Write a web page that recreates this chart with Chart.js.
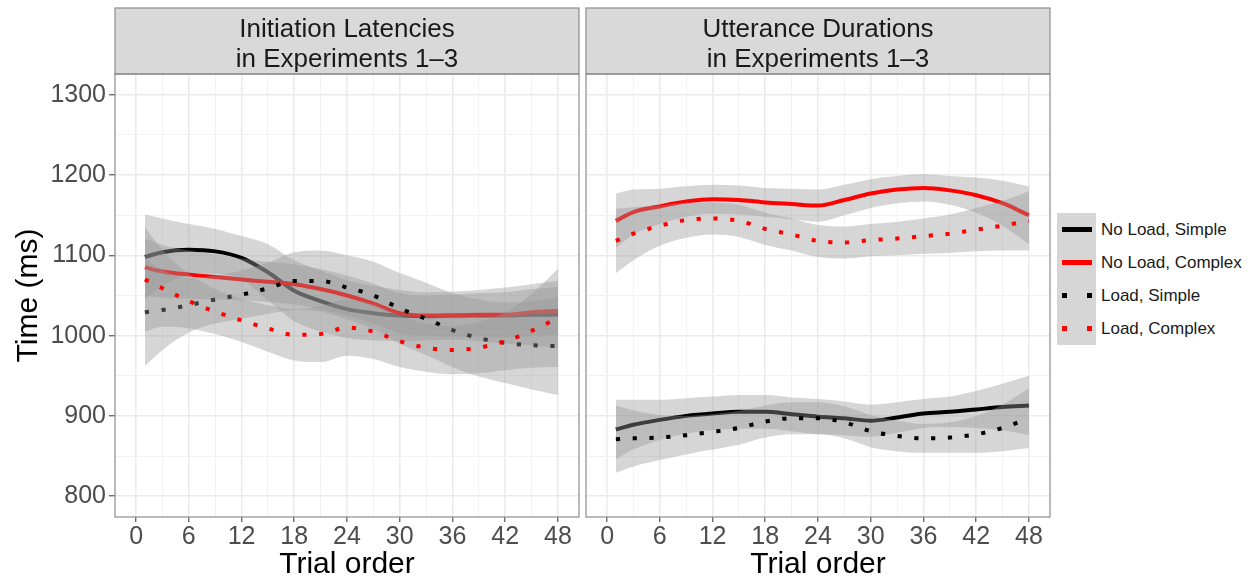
<!DOCTYPE html>
<html>
<head>
<meta charset="utf-8">
<script src="https://cdn.jsdelivr.net/npm/chart.js@4.4.1/dist/chart.umd.min.js"></script>
<style>
  body { margin: 0; background: #fff; font-family: "Liberation Sans", Arial, Helvetica, sans-serif; }
  #wrap { position: relative; width: 1253px; height: 578px; }
  canvas { position: absolute; top: 0; }
  .key { position: absolute; left: 1057px; width: 39px; height: 33px; background: #d6d6d6; }
  .solid { position: absolute; left: 5px; width: 30px; height: 5px; top: 14px; }
  .dot { position: absolute; width: 5px; height: 5px; top: 14px; }
  .lab { position: absolute; left: 1101px; font-size: 17px; color: #1a1a1a; line-height: 33px; white-space: nowrap; }
</style>
</head>
<body>
<div id="wrap">
  <canvas id="leftChart" width="583" height="578" style="left:0"></canvas>
  <canvas id="rightChart" width="470" height="578" style="left:583px"></canvas>
  <div id="legend"></div>
</div>
<script>
// trial positions where the smoothed curves were read
const trials = [1, 3, 6, 9, 12, 15, 18, 21, 24, 27, 30, 33, 36, 39, 42, 45, 48];

// Initiation latencies (ms)
const latNoLoadSimple = [1098, 1104, 1107, 1105, 1097, 1079, 1056, 1043, 1033, 1028, 1025, 1024, 1025, 1025, 1025, 1026, 1026];
const latNoLoadSimpleHi = [1151, 1146, 1139, 1133, 1124, 1114, 1094, 1081, 1069, 1062, 1057, 1054, 1055, 1057, 1060, 1064, 1068];
const latNoLoadSimpleLo = [1045, 1062, 1075, 1077, 1070, 1044, 1018, 1005, 997, 994, 993, 994, 995, 993, 990, 988, 984];
const latNoLoadComplex = [1085, 1080, 1076, 1073, 1070, 1067, 1064, 1058, 1050, 1040, 1028, 1025, 1025, 1026, 1026, 1029, 1031];
const latNoLoadComplexHi = [1121, 1113, 1106, 1101, 1096, 1092, 1089, 1083, 1075, 1065, 1053, 1050, 1051, 1053, 1054, 1058, 1061];
const latNoLoadComplexLo = [1049, 1047, 1046, 1045, 1044, 1042, 1039, 1033, 1025, 1015, 1003, 1000, 999, 999, 998, 1000, 1001];
const latLoadSimple = [1029, 1032, 1038, 1045, 1051, 1059, 1068, 1068, 1060, 1050, 1034, 1021, 1007, 997, 991, 988, 987];
const latLoadSimpleHi = [1096, 1082, 1072, 1075, 1081, 1091, 1104, 1106, 1100, 1092, 1078, 1066, 1053, 1045, 1041, 1043, 1048];
const latLoadSimpleLo = [962, 982, 1004, 1015, 1021, 1027, 1032, 1030, 1020, 1008, 990, 976, 961, 949, 941, 933, 926];
const latLoadComplex = [1070, 1059, 1043, 1030, 1019, 1009, 1001, 1002, 1010, 1005, 993, 985, 982, 985, 993, 1006, 1022];
const latLoadComplexHi = [1135, 1107, 1077, 1058, 1046, 1038, 1033, 1037, 1045, 1039, 1025, 1015, 1012, 1017, 1029, 1052, 1083];
const latLoadComplexLo = [1005, 1011, 1009, 1002, 992, 980, 969, 967, 975, 971, 961, 955, 952, 953, 957, 960, 961];

// Utterance durations (ms)
const durNoLoadSimple = [883, 889, 895, 900, 903, 905, 905, 902, 899, 897, 894, 898, 903, 905, 908, 911, 913];
const durNoLoadSimpleHi = [920, 920, 920, 922, 924, 926, 926, 923, 921, 918, 914, 917, 921, 924, 931, 940, 950];
const durNoLoadSimpleLo = [846, 858, 870, 878, 882, 884, 884, 881, 877, 876, 874, 879, 885, 886, 885, 882, 876];
const durNoLoadComplex = [1143, 1154, 1161, 1167, 1170, 1169, 1166, 1164, 1162, 1169, 1177, 1182, 1184, 1181, 1175, 1165, 1150];
const durNoLoadComplexHi = [1177, 1182, 1183, 1186, 1188, 1187, 1184, 1183, 1182, 1188, 1195, 1199, 1201, 1199, 1197, 1193, 1186];
const durNoLoadComplexLo = [1109, 1126, 1139, 1148, 1152, 1151, 1148, 1145, 1142, 1150, 1159, 1165, 1167, 1163, 1153, 1137, 1114];
const durLoadSimple = [871, 872, 873, 876, 880, 885, 893, 897, 897, 892, 881, 875, 872, 873, 877, 885, 897];
const durLoadSimpleHi = [913, 907, 901, 900, 902, 906, 913, 917, 917, 912, 901, 894, 890, 892, 900, 914, 934];
const durLoadSimpleLo = [829, 837, 845, 852, 858, 864, 873, 877, 877, 872, 861, 856, 854, 854, 854, 856, 860];
const durLoadComplex = [1118, 1127, 1137, 1144, 1146, 1143, 1133, 1126, 1118, 1116, 1119, 1121, 1124, 1127, 1132, 1137, 1143];
const durLoadComplexHi = [1158, 1160, 1162, 1166, 1166, 1163, 1153, 1146, 1138, 1136, 1139, 1142, 1146, 1151, 1159, 1168, 1180];
const durLoadComplexLo = [1078, 1094, 1112, 1122, 1126, 1123, 1113, 1106, 1098, 1096, 1099, 1100, 1102, 1103, 1105, 1106, 1106];

const xTicks = [0, 3, 6, 9, 12, 15, 18, 21, 24, 27, 30, 33, 36, 39, 42, 45, 48];
const yTicks = [800, 850, 900, 950, 1000, 1050, 1100, 1150, 1200, 1250, 1300];
const seriesNames = ['No Load, Simple', 'No Load, Complex', 'Load, Simple', 'Load, Complex'];
const seriesColors = ['#000000', '#ff0000', '#000000', '#ff0000'];
const seriesDotted = [false, false, true, true];

const FONT = '"Liberation Sans", Arial, Helvetica, sans-serif';
const RIBBON = 'rgba(153,153,153,0.4)';
Chart.defaults.font.family = FONT;

function pts(ys) {
    return trials.map((t, i) => ({ x: t, y: ys[i] }));
}

// ggplot order: ribbon 1, line 1, ribbon 2, line 2 ...
function buildDatasets(groups) {
    const sets = [];
    const total = groups.length * 3;
    let k = 0;
    groups.forEach((g, i) => {
        const lowIdx = sets.length;
        sets.push({
            data: pts(g[2]), borderColor: 'rgba(0,0,0,0)', borderWidth: 1,
            pointRadius: 0, fill: false, order: total - k++,
            cubicInterpolationMode: 'monotone'
        });
        sets.push({
            data: pts(g[1]), borderColor: 'rgba(0,0,0,0)', borderWidth: 1,
            backgroundColor: RIBBON, pointRadius: 0, fill: lowIdx, order: total - k++,
            cubicInterpolationMode: 'monotone'
        });
        sets.push({
            label: seriesNames[i],
            data: pts(g[0]), borderColor: seriesColors[i], borderWidth: 4,
            borderDash: seriesDotted[i] ? [4.2, 12.6] : [], borderCapStyle: 'butt',
            pointRadius: 0, fill: false, order: total - k++,
            cubicInterpolationMode: 'monotone'
        });
    });
    return sets;
}

const stripPlugin = {
    id: 'strip',
    afterDraw(chart, args, opts) {
        const ctx = chart.ctx;
        const a = chart.chartArea;
        ctx.save();
        ctx.fillStyle = '#d9d9d9';
        ctx.fillRect(a.left, 8, a.right - a.left, a.top - 8);
        ctx.strokeStyle = '#8c8c8c';
        ctx.lineWidth = 1.2;
        ctx.strokeRect(a.left, 8, a.right - a.left, a.top - 8);
        ctx.strokeRect(a.left, a.top, a.right - a.left, a.bottom - a.top);
        ctx.fillStyle = '#1a1a1a';
        ctx.font = '26px ' + FONT;
        ctx.textAlign = 'center';
        ctx.textBaseline = 'alphabetic';
        const cx = (a.left + a.right) / 2;
        ctx.fillText(opts.lines[0], cx, 37);
        ctx.fillText(opts.lines[1], cx, 67);
        ctx.restore();
    }
};

function gridColor(major) { return major ? '#ebebeb' : '#f2f2f2'; }

function makeChart(id, groups, title, showY, leftW, padRight) {
    const ctx = document.getElementById(id).getContext('2d');
    return new Chart(ctx, {
        type: 'line',
        data: { datasets: buildDatasets(groups) },
        plugins: [stripPlugin],
        options: {
            responsive: false,
            animation: false,
            layout: { padding: { top: 74, right: padRight, bottom: 0, left: 0 } },
            plugins: {
                legend: { display: false },
                tooltip: { enabled: false },
                filler: { drawTime: 'beforeDatasetDraw' },
                strip: { lines: title }
            },
            scales: {
                x: {
                    type: 'linear', min: -2.4, max: 50.4,
                    afterBuildTicks: s => { s.ticks = xTicks.map(v => ({ value: v })); },
                    afterFit: s => { s.height = 61; },
                    border: { display: false },
                    grid: {
                        color: c => gridColor(c.tick && c.tick.value % 6 === 0),
                        lineWidth: c => (c.tick && c.tick.value % 6 === 0) ? 1.6 : 1,
                        tickColor: c => (c.tick && c.tick.value % 6 === 0) ? '#333333' : 'rgba(0,0,0,0)',
                        tickLength: 5, tickWidth: 1
                    },
                    ticks: {
                        autoSkip: false, maxRotation: 0, padding: 0,
                        color: '#4d4d4d', font: { size: 25 },
                        callback: v => v % 6 === 0 ? String(v) : ''
                    },
                    title: {
                        display: true, text: 'Trial order', color: '#000',
                        font: { size: 30 }, padding: { top: 0, bottom: -5 }
                    }
                },
                y: {
                    type: 'linear', min: 774, max: 1326,
                    afterBuildTicks: s => { s.ticks = yTicks.map(v => ({ value: v })); },
                    afterFit: s => { s.width = leftW; },
                    border: { display: false },
                    grid: {
                        color: c => gridColor(c.tick && c.tick.value % 100 === 0),
                        lineWidth: c => (c.tick && c.tick.value % 100 === 0) ? 1.6 : 1,
                        tickColor: c => (showY && c.tick && c.tick.value % 100 === 0) ? '#333333' : 'rgba(0,0,0,0)',
                        drawTicks: showY, tickLength: 6, tickWidth: 1
                    },
                    ticks: {
                        display: showY, autoSkip: false, padding: 3,
                        color: '#4d4d4d', font: { size: 25 },
                        callback: v => v % 100 === 0 ? String(v) : ''
                    },
                    title: {
                        display: showY, text: 'Time (ms)', color: '#000',
                        font: { size: 30 }, padding: 11
                    }
                }
            }
        }
    });
}

makeChart('leftChart', [
    [latNoLoadSimple, latNoLoadSimpleHi, latNoLoadSimpleLo],
    [latNoLoadComplex, latNoLoadComplexHi, latNoLoadComplexLo],
    [latLoadSimple, latLoadSimpleHi, latLoadSimpleLo],
    [latLoadComplex, latLoadComplexHi, latLoadComplexLo]
], ['Initiation Latencies', 'in Experiments 1\u20133'], true, 115, 4);

makeChart('rightChart', [
    [durNoLoadSimple, durNoLoadSimpleHi, durNoLoadSimpleLo],
    [durNoLoadComplex, durNoLoadComplexHi, durNoLoadComplexLo],
    [durLoadSimple, durLoadSimpleHi, durLoadSimpleLo],
    [durLoadComplex, durLoadComplexHi, durLoadComplexLo]
], ['Utterance Durations', 'in Experiments 1\u20133'], false, 3, 3);

// legend
const legend = document.getElementById('legend');
seriesNames.forEach((name, i) => {
    const top = 213 + i * 33;
    const key = document.createElement('div');
    key.className = 'key';
    key.style.top = top + 'px';
    if (seriesDotted[i]) {
        key.innerHTML = `<div class="dot" style="left:5px;background:${seriesColors[i]}"></div>` +
                        `<div class="dot" style="left:30px;background:${seriesColors[i]}"></div>`;
    } else {
        key.innerHTML = `<div class="solid" style="background:${seriesColors[i]}"></div>`;
    }
    legend.appendChild(key);
    const lab = document.createElement('div');
    lab.className = 'lab';
    lab.style.top = top + 'px';
    lab.textContent = name;
    legend.appendChild(lab);
});
</script>
</body>
</html>
